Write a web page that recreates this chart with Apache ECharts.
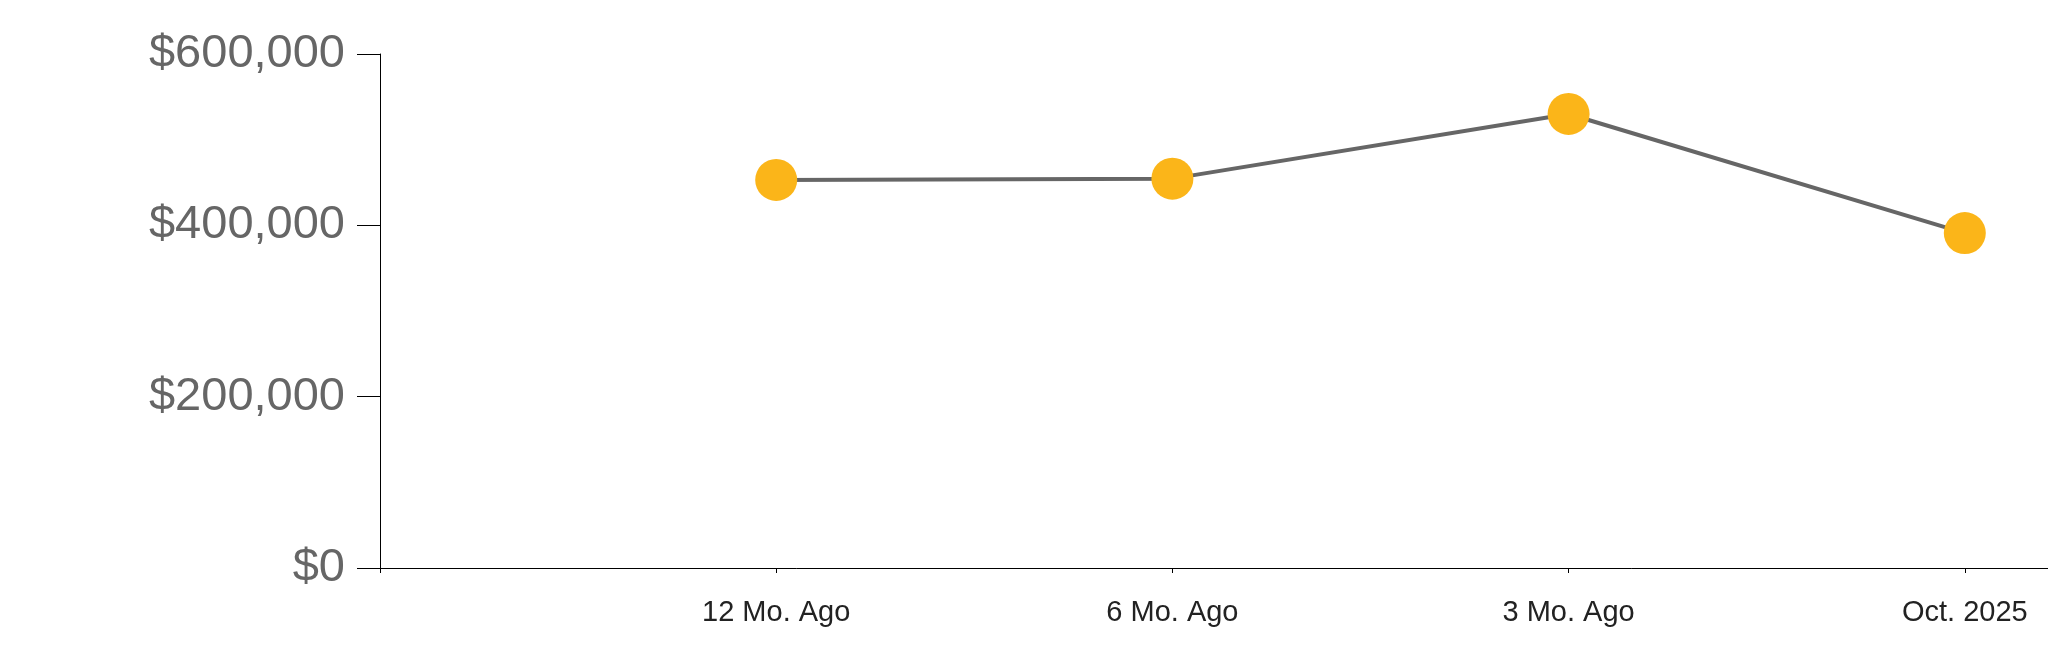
<!DOCTYPE html>
<html>
<head>
<meta charset="utf-8">
<script src="https://cdn.jsdelivr.net/npm/echarts@6/dist/echarts.min.js"></script>
<style>
html,body{margin:0;padding:0;background:#fff;}
#chart{width:2048px;height:663px;}
</style>
</head>
<body>
<div id="chart"></div>
<script>
const categories = ['12 Mo. Ago', '6 Mo. Ago', '3 Mo. Ago', 'Oct. 2025'];
const values = [453000, 454500, 530000, 391000];
const yTicks = [0, 200000, 400000, 600000];

const positions = categories.map((c, i) => i + 1);
const seriesData = values.map((v, i) => [positions[i], v]);

function money(v) {
  return '$' + Math.round(v).toString().replace(/\B(?=(\d{3})+(?!\d))/g, ',');
}

const chart = echarts.init(document.getElementById('chart'), null, {renderer: 'canvas'});
chart.setOption({
  animation: false,
  backgroundColor: '#ffffff',
  grid: {left: 380, right: 0, top: 54, bottom: 95, containLabel: false},
  xAxis: {
    type: 'value',
    min: 0,
    max: 4.21,
    interval: 1,
    splitLine: {show: false},
    axisLine: {show: true, lineStyle: {color: '#000', width: 1}},
    axisTick: {show: true, length: 5, lineStyle: {color: '#000'}, customValues: [0].concat(positions)},
    axisLabel: {
      customValues: positions,
      margin: 30,
      fontSize: 29,
      color: '#222',
      fontFamily: 'Liberation Sans, Arial, sans-serif',
      formatter: function (v) {
        const idx = positions.indexOf(v);
        return idx >= 0 ? categories[idx] : '';
      }
    }
  },
  yAxis: {
    type: 'value',
    min: yTicks[0],
    max: yTicks[yTicks.length - 1],
    interval: yTicks[1] - yTicks[0],
    splitLine: {show: false},
    axisLine: {show: true, lineStyle: {color: '#000', width: 1}},
    axisTick: {show: true, length: 23, lineStyle: {color: '#000'}},
    axisLabel: {
      margin: 35,
      fontSize: 47,
      color: '#666',
      fontFamily: 'Liberation Sans, Arial, sans-serif',
      formatter: money
    }
  },
  series: [{
    type: 'line',
    data: seriesData,
    symbol: 'circle',
    symbolSize: 42,
    lineStyle: {color: '#666', width: 4},
    itemStyle: {color: '#FBB519'},
    z: 3
  }]
});
</script>
</body>
</html>
